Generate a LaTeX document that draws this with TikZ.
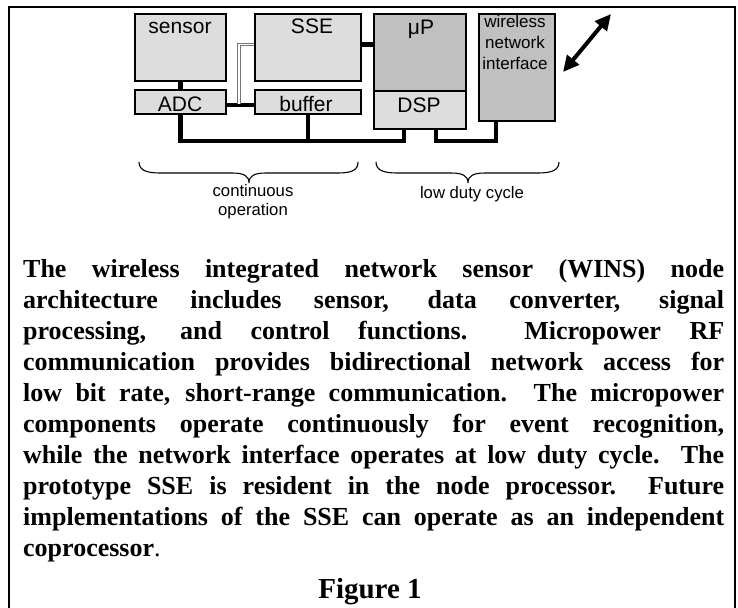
\documentclass[tikz,border=0pt]{standalone}
\usepackage{fontspec}
\setmainfont{Liberation Serif}
\setsansfont{Liberation Sans}
\usetikzlibrary{arrows.meta}
\definecolor{boxlight}{HTML}{DDDDDD}
\definecolor{boxdark}{HTML}{C0C0C0}

\begin{document}
\begin{tikzpicture}[x=1pt,y=-1pt,
  blk/.style={draw=black, line width=2pt, anchor=north west, inner sep=0pt},
  light/.style={blk, fill=boxlight},
  dark/.style={blk, fill=boxdark},
  lbl/.style={anchor=base, inner sep=0pt, font=\sffamily\fontsize{21}{25}\selectfont},
  small/.style={inner sep=0pt, align=center, font=\sffamily\fontsize{17}{21}\selectfont},
  note/.style={anchor=base, inner sep=0pt, align=center, font=\sffamily\fontsize{16.7}{19}\selectfont},
  wire/.style={draw=black, line width=4.5pt},
  tapline/.style={draw=black!55, line width=0.8pt, double=white, double distance=1.6pt},
  curly/.style={draw=black, line width=1.1pt},
  body/.style={anchor=base west, inner sep=0pt, font=\bfseries\fontsize{26}{31}\selectfont},
  frame/.style={draw=black, line width=2.6pt}]

\path[clip] (0,0) rectangle (738,607);

% outer frame (open at the bottom of the page)
\draw[frame] (9,640) -- (9,7) -- (735,7) -- (735,640);

% blocks
\node[light, minimum width=91pt, minimum height=67pt] (sensor) at (134,13) {};
\node[light, minimum width=91pt, minimum height=24pt] (adc) at (134,89) {};
\node[light, minimum width=106pt, minimum height=67pt] (sse) at (254,13) {};
\node[light, minimum width=106pt, minimum height=24pt] (buffer) at (254,89) {};
\node[dark, minimum width=92pt, minimum height=77pt] (up) at (373,13) {};
\node[light, minimum width=92pt, minimum height=38pt] (dsp) at (373,90) {};
\node[dark, minimum width=76pt, minimum height=107pt] (wni) at (478,13) {};

% block labels
\node[lbl] (sensorlbl) at (180,34) {sensor};
\node[lbl] (sselbl) at (312,34) {SSE};
\node[lbl] (uplbl) at (421,35) {μP};
\node[lbl] (adclbl) at (180,111) {ADC};
\node[lbl] (bufferlbl) at (306,111) {buffer};
\node[lbl] (dsplbl) at (419,113) {DSP};
\node[small, anchor=base] (wnilbl) at (515,70) {wireless\\network\\interface};

% connections
\coordinate (busy) at (0,141);
\coordinate (dspA) at ([xshift=-16pt]dsp.south);
\coordinate (dspB) at ([xshift=16pt]dsp.south);
\coordinate (wniA) at ([xshift=-21pt]wni.south);
\coordinate (tap) at (239,104);

\draw[wire] (sensor.south) -- (adc.north);
\draw[wire] ([yshift=-3pt]adc.east) -- ([yshift=-3pt]buffer.west);
\draw[wire] ([yshift=3pt]sse.east) -- ([yshift=3pt]sse.east -| up.west);
\draw[wire] (adc.south) |- (busy -| dspA) -- (dspA);
\draw[wire] (buffer.south) -- (buffer.south |- busy);
\draw[wire] (dspB) |- (busy -| wniA) -- (wniA);
\draw[tapline] ([yshift=3pt]sse.west) -| (tap);

% radio link
\coordinate (antA) at (563,72);
\coordinate (antB) at (611,14);
\draw[line width=4pt, {Triangle[length=16pt,width=15pt]}-{Triangle[length=16pt,width=15pt]}] (antA) -- (antB);

% braces
\draw[curly] (139,162) .. controls (139,170) and (146,173) .. (160,173)
  -- (232,173) .. controls (244,173) and (249,176) .. (249,183)
  .. controls (249,176) and (254,173) .. (266,173)
  -- (338,173) .. controls (352,173) and (358,170) .. (358,162);
\draw[curly] (376,162) .. controls (376,170) and (383,173) .. (397,173)
  -- (451,173) .. controls (463,173) and (468,176) .. (468,183)
  .. controls (468,176) and (473,173) .. (485,173)
  -- (538,173) .. controls (552,173) and (559,170) .. (559,162);

\node[note] (contlbl) at (253,215) {continuous\\operation};
\node[note] (dutylbl) at (472,198) {low duty cycle};

% caption
\node[body] (c1) at (23,277) {\makebox[701pt][s]{The wireless integrated network sensor (WINS) node}};
\node[body] (c2) at (23,308) {\makebox[701pt][s]{architecture includes sensor, data converter, signal}};
\node[body] (c3) at (23,339) {\makebox[701pt][s]{processing, and control functions.\ \ Micropower RF}};
\node[body] (c4) at (23,370) {\makebox[701pt][s]{communication provides bidirectional network access for}};
\node[body] (c5) at (23,401) {\makebox[701pt][s]{low bit rate, short-range communication.\ \ The micropower}};
\node[body] (c6) at (23,432) {\makebox[701pt][s]{components operate continuously for event recognition,}};
\node[body] (c7) at (23,463) {\makebox[701pt][s]{while the network interface operates at low duty cycle.\ \ The}};
\node[body] (c8) at (23,494) {\makebox[701pt][s]{prototype SSE is resident in the node processor.\ \ Future}};
\node[body] (c9) at (23,525) {\makebox[701pt][s]{implementations of the SSE can operate as an independent}};
\node[body] (c10) at (23,556) {coprocessor{\mdseries .}};

\node[anchor=base, inner sep=0pt, font=\bfseries\fontsize{29}{34}\selectfont] (figlbl) at (370,598) {Figure 1};
\end{tikzpicture}
\end{document}
